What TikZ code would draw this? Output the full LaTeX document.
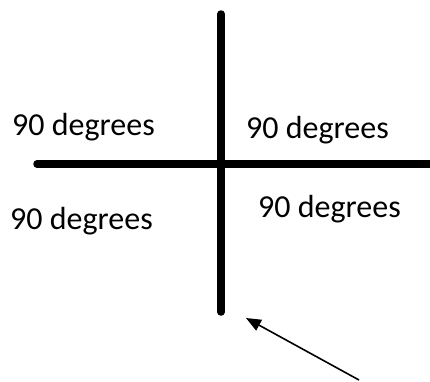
\documentclass[tikz,border=0pt]{standalone}
\usepackage{fontspec}
\setmainfont{Carlito}
\usetikzlibrary{arrows.meta}
\begin{document}
\begin{tikzpicture}[x=1pt,y=-1pt,
  axisline/.style={line width=7.5pt, line cap=round},
  pointer/.style={line width=1.6pt, -{Triangle[length=15pt,width=12pt]}},
  lbl/.style={anchor=base west, inner sep=0pt, font=\fontsize{32}{38}\selectfont, text=black}]
\path[use as bounding box] (0,0) rectangle (430,381);
\clip (0,0) rectangle (430,381);
\coordinate (vtop) at (221,14);
\coordinate (vbot) at (221,312);
\coordinate (hleft) at (37,164);
\coordinate (hright) at (436,164);
\draw[axisline] (vtop) -- (vbot);
\draw[axisline] (hleft) -- (hright);
\node[lbl] (tl) at (12,135) {90 degrees};
\node[lbl] (tr) at (246,138) {90 degrees};
\node[lbl] (bl) at (10,229) {90 degrees};
\node[lbl] (br) at (258,217) {90 degrees};
\coordinate (tail) at (359,380);
\coordinate (tip) at (246,318);
\draw[pointer] (tail) -- (tip);
\end{tikzpicture}
\end{document}
